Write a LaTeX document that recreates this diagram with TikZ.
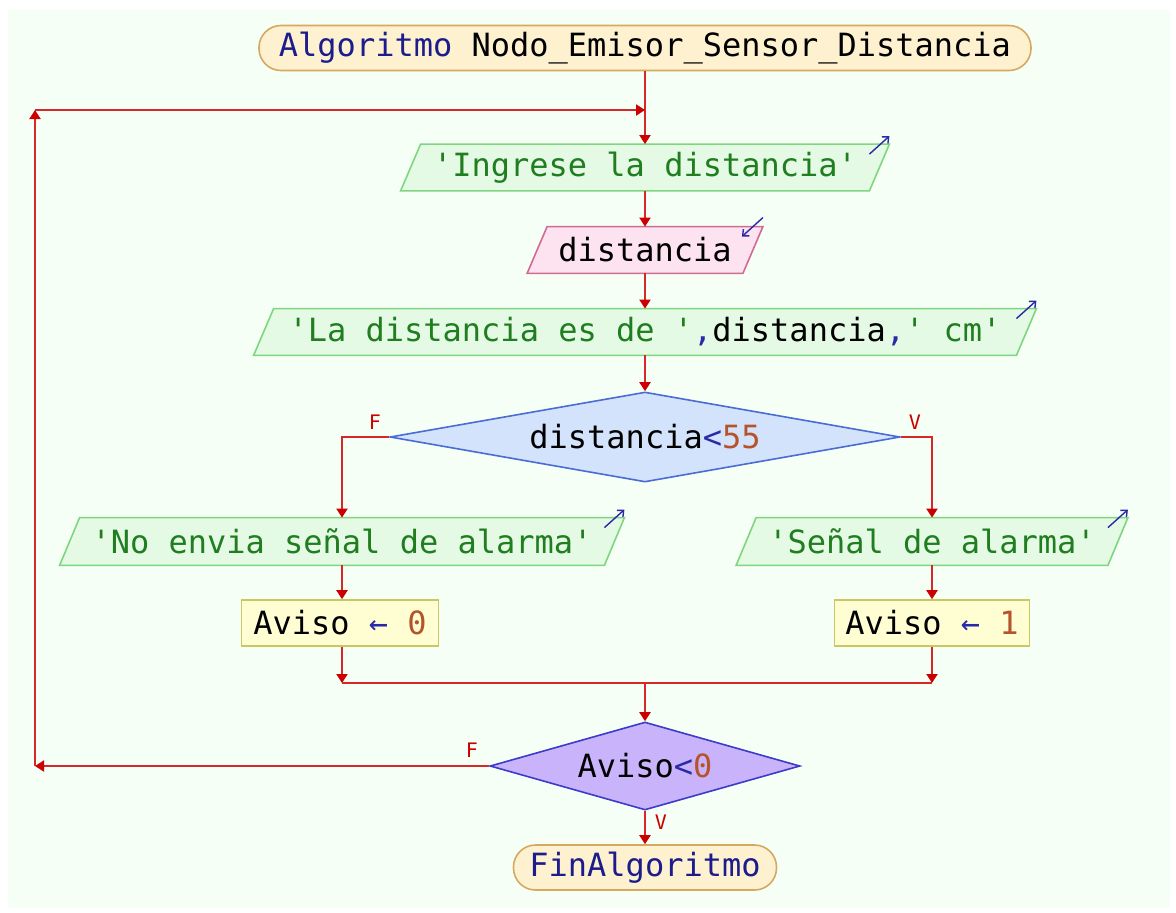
\documentclass[tikz,border=0pt]{standalone}
\usepackage{fontspec}
\setmonofont{DejaVu Sans Mono}
\usetikzlibrary{arrows.meta,shapes.geometric,backgrounds}

\definecolor{pagebg}{RGB}{245,255,245}
\definecolor{kw}{RGB}{28,28,140}
\definecolor{strg}{RGB}{32,125,32}
\definecolor{num}{RGB}{181,83,42}
\definecolor{op}{RGB}{42,42,168}
\definecolor{linered}{RGB}{214,40,40}
\definecolor{tipred}{RGB}{204,0,0}
\definecolor{termfill}{RGB}{253,241,208}
\definecolor{termdraw}{RGB}{214,168,96}
\definecolor{outfill}{RGB}{228,250,228}
\definecolor{outdraw}{RGB}{128,214,128}
\definecolor{infill}{RGB}{253,226,239}
\definecolor{indraw}{RGB}{208,107,147}
\definecolor{asgfill}{RGB}{254,254,210}
\definecolor{asgdraw}{RGB}{200,200,96}
\definecolor{ifafill}{RGB}{211,227,252}
\definecolor{ifadraw}{RGB}{74,108,212}
\definecolor{ifbfill}{RGB}{201,179,251}
\definecolor{ifbdraw}{RGB}{60,60,200}

\tikzset{
  every node/.style={font=\ttfamily\fontsize{16}{19}\selectfont, inner sep=0pt},
  term/.style={rectangle, rounded corners=11pt, fill=termfill, draw=termdraw, line width=0.8pt},
  slot/.style={rectangle, draw=none, minimum height=23pt},
  outbox/.style={fill=outfill, draw=outdraw, line width=0.8pt},
  inbox/.style={fill=infill, draw=indraw, line width=0.8pt},
  asg/.style={rectangle, fill=asgfill, draw=asgdraw, line width=0.8pt, minimum height=23pt},
  cond/.style={diamond, line width=0.8pt},
  flow/.style={draw=linered, line width=1pt, -{Triangle[width=5.5pt,length=4.5pt,color=tipred]}},
  plain/.style={draw=linered, line width=1pt},
  ioarrow/.style={draw=op, line width=0.7pt, -{Straight Barb[length=2.5pt,width=4.5pt]}},
  lbl/.style={font=\ttfamily\fontsize{10}{12}\selectfont, text=tipred},
}

% parallelogram drawn behind a slot node: name, style, half slant
\newcommand\slantbox[3]{%
  \begin{scope}[on background layer]
    \path[#2] ([xshift=#3]#1.north west) -- ([xshift=#3]#1.north east)
      -- ([xshift=-#3]#1.south east) -- ([xshift=-#3]#1.south west) -- cycle;
  \end{scope}
  \coordinate (#1ne) at ([xshift=#3]#1.north east);
}

\begin{document}
\begin{tikzpicture}[x=0.5pt, y=-0.5pt]
  \useasboundingbox (0,0) rectangle (1176,912);
  \begin{scope}[on background layer]
    \fill[pagebg] (8,10) rectangle (1170,908);
  \end{scope}

  % main column
  \node[term, minimum width=386pt, minimum height=22.5pt] (start) at (645,48)
    {{\color{kw}Algoritmo} Nodo\_Emisor\_Sensor\_Distancia};
  \node[slot, minimum width=234pt] (p1) at (645,167.5)
    {\color{strg}'Ingrese la distancia'};
  \node[slot, minimum width=107.5pt] (p2) at (645,250) {distancia};
  \node[slot, minimum width=381pt] (p3) at (645,332)
    {{\color{strg}'La distancia es de '}{\color{op},}distancia{\color{op},}{\color{strg}' cm'}};
  \node[cond, aspect=5.6, fill=ifafill, draw=ifadraw, minimum width=255pt, minimum height=45pt] (d1) at (645,437)
    {distancia{\color{op}<}{\color{num}55}};

  % branches
  \node[slot, minimum width=272pt, minimum height=23.5pt] (p4) at (342,541.5)
    {\color{strg}'No envia señal de alarma'};
  \node[slot, minimum width=185.5pt, minimum height=23.5pt] (p5) at (932,541.5)
    {\color{strg}'Señal de alarma'};
  \node[asg, minimum width=98.5pt] (r1) at (340,623)
    {Aviso {\color{op}←} {\color{num}0}};
  \node[asg, minimum width=97.5pt] (r2) at (932,623)
    {Aviso {\color{op}←} {\color{num}1}};

  \node[cond, aspect=3.5, fill=ifbfill, draw=ifbdraw, minimum width=155pt, minimum height=44pt] (d2) at (645,766)
    {Aviso{\color{op}<}{\color{num}0}};
  \node[term, minimum width=131.5pt, minimum height=22.5pt] (end) at (645,867.5)
    {\color{kw}FinAlgoritmo};

  % input / output shapes
  \slantbox{p1}{outbox}{5pt}
  \slantbox{p2}{inbox}{5pt}
  \slantbox{p3}{outbox}{5pt}
  \slantbox{p4}{outbox}{5pt}
  \slantbox{p5}{outbox}{5pt}

  \draw[ioarrow] ([shift={(-20,10)}]p1ne) -- ++(20,-18);
  \draw[ioarrow] ([shift={(0,-9)}]p2ne) -- ++(-21,19);
  \draw[ioarrow] ([shift={(-20,10)}]p3ne) -- ++(20,-18);
  \draw[ioarrow] ([shift={(-20,10)}]p4ne) -- ++(20,-18);
  \draw[ioarrow] ([shift={(-20,10)}]p5ne) -- ++(20,-18);

  % connector points
  \coordinate (mL) at (342,683);
  \coordinate (mR) at (932,683);
  \coordinate (mC) at (645,683);
  \coordinate (lb) at (35,766);
  \coordinate (lt) at (35,110);
  \coordinate (lj) at (645,110);

  % connectors
  \draw[flow] (start) -- (p1);
  \draw[flow] (p1) -- (p2);
  \draw[flow] (p2) -- (p3);
  \draw[flow] (p3) -- (d1);
  \draw[flow] (d1.west) -| (p4.north);
  \draw[flow] (d1.east) -| (p5.north);
  \draw[flow] (p4) -- (p4 |- r1.north);
  \draw[flow] (p5) -- (r2);
  \draw[flow] (p4 |- r1.south) -- (mL);
  \draw[flow] (r2) -- (mR);
  \draw[plain] (mL) -- (mR);
  \draw[flow] (mC) -- (d2);
  \draw[flow] (d2.west) -- (lb);
  \draw[flow] (lb) -- (lt);
  \draw[flow] (lt) -- (lj);
  \draw[flow] (d2) -- (end);

  % branch labels
  \node[lbl] (f1) at (375,422) {F};
  \node[lbl] (v1) at (915,422) {V};
  \node[lbl] (f2) at (472,750) {F};
  \node[lbl] (v2) at (661,822) {V};
\end{tikzpicture}
\end{document}
